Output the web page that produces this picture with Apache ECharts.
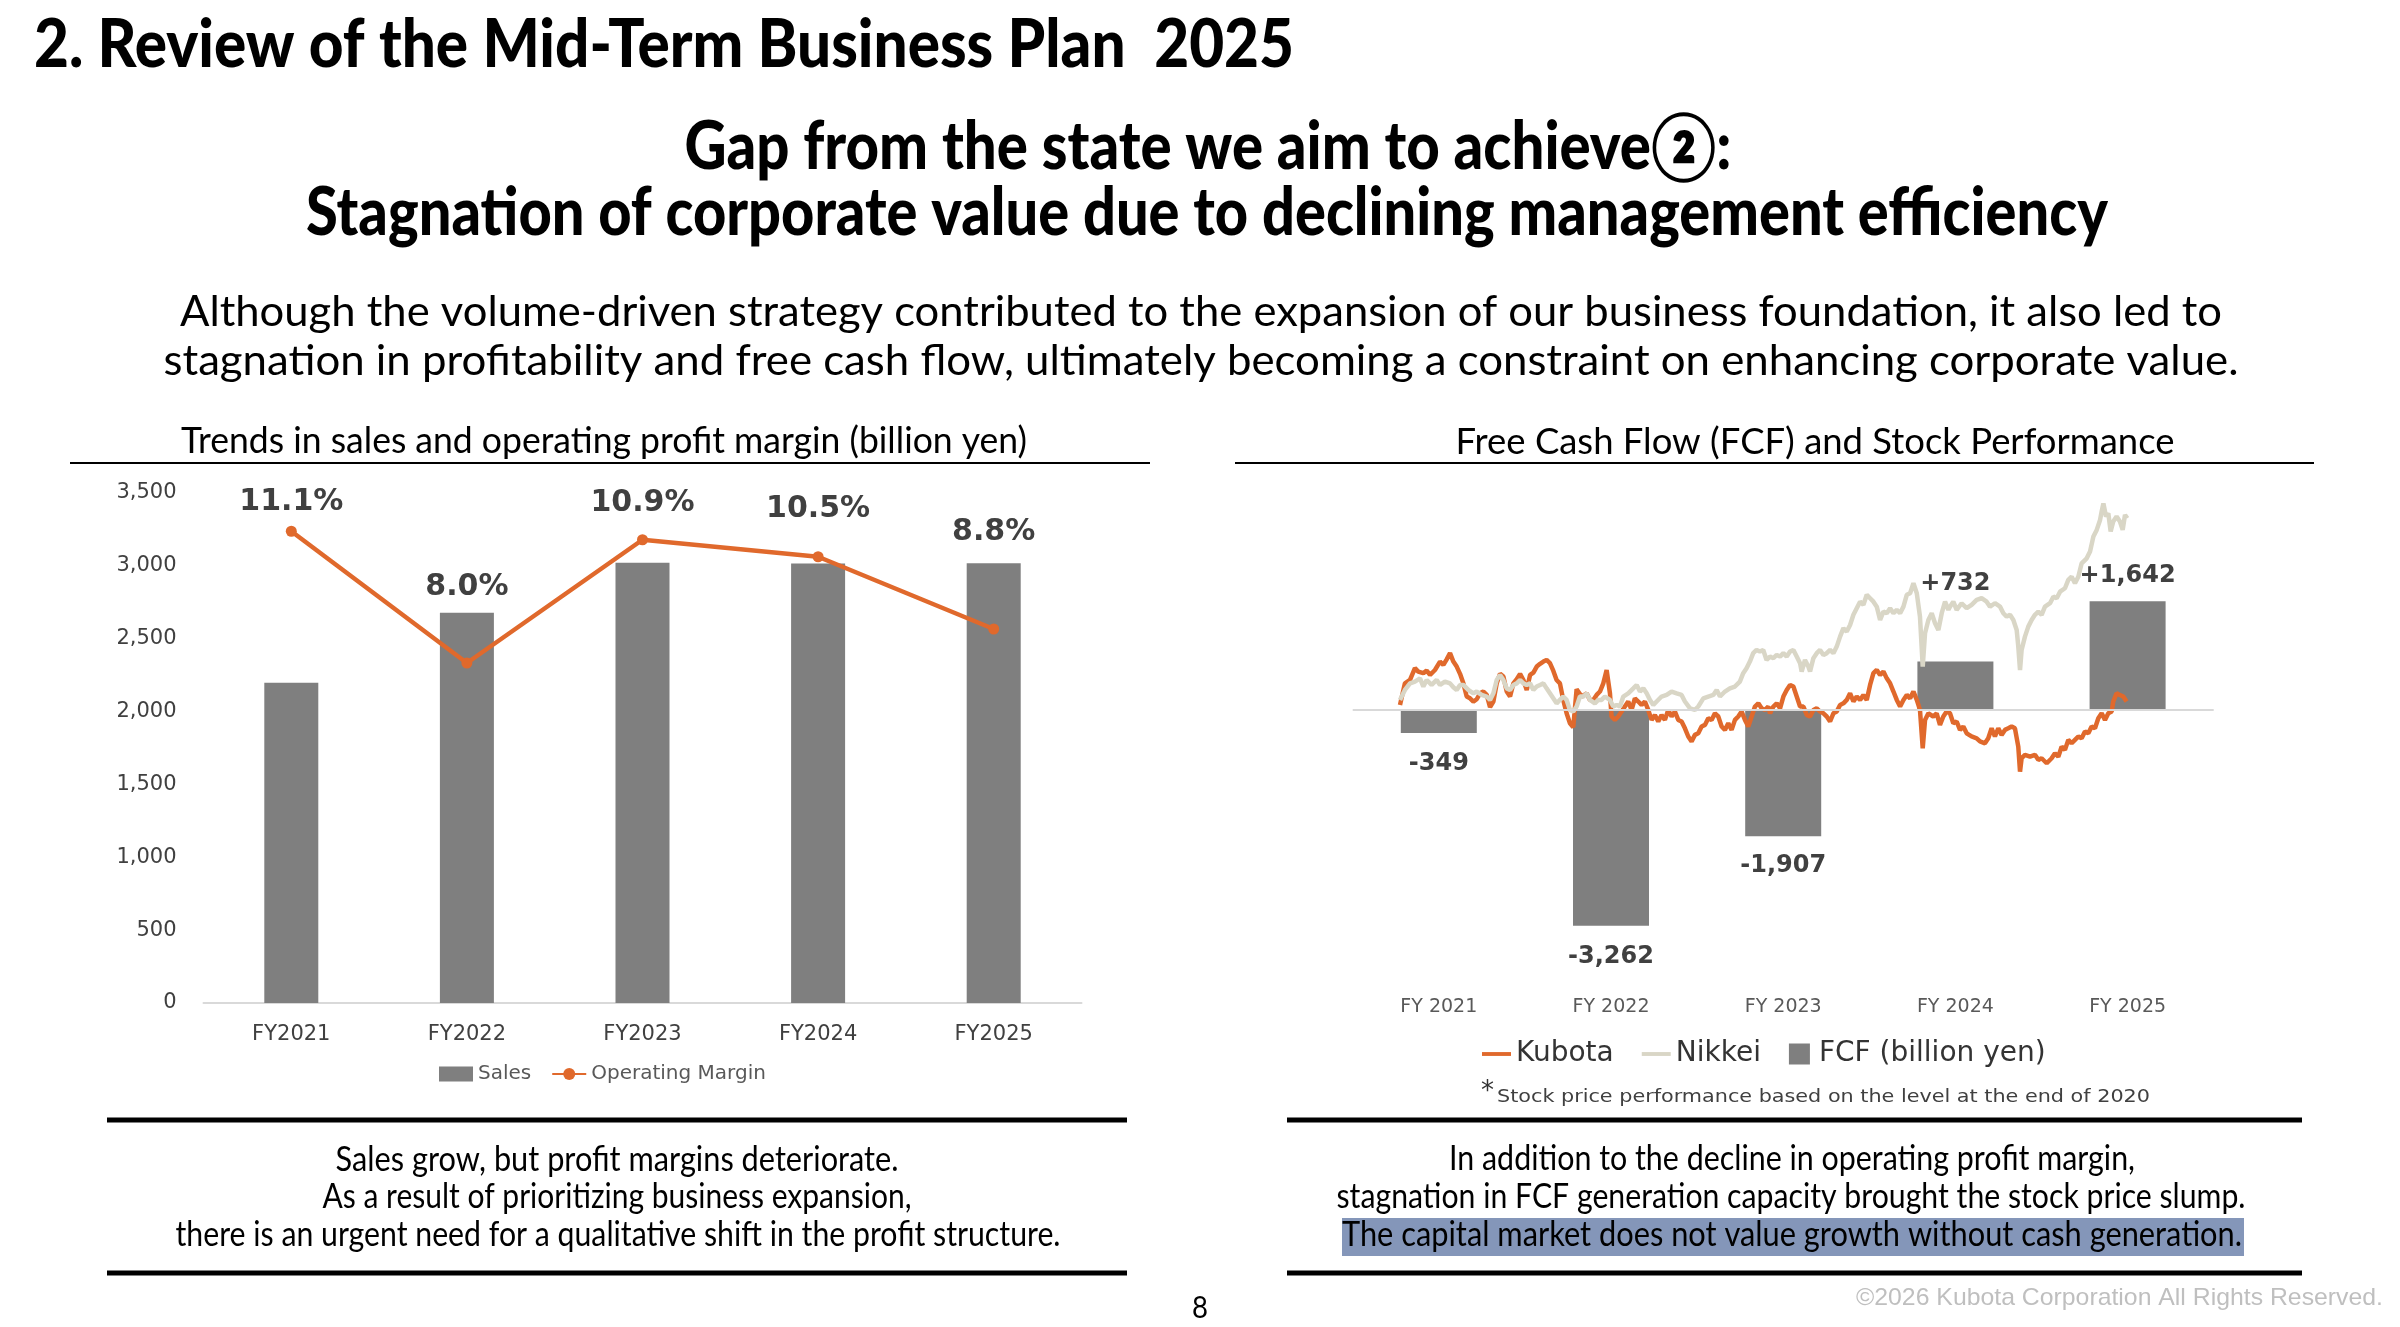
<!DOCTYPE html>
<html>
<head>
<meta charset="utf-8">
<script src="https://cdn.jsdelivr.net/npm/echarts@6/dist/echarts.min.js"></script>
<style>
  html, body { margin: 0; padding: 0; background: #fff; }
  #main { width: 2400px; height: 1327px; }
</style>
</head>
<body>
<div id="main"></div>
<script>
// --- left chart: sales & operating margin
const fiscalYears = ['FY2021', 'FY2022', 'FY2023', 'FY2024', 'FY2025'];
const sales = [2197, 2679, 3021, 3016, 3018];          // billion yen
const opMargin = [11.1, 8.0, 10.9, 10.5, 8.8];          // %
const salesTicks = [0, 3500, 500];                      // min, max, step

// --- right chart: FCF and stock performance
const fcfYears = ['FY 2021', 'FY 2022', 'FY 2023', 'FY 2024', 'FY 2025'];
const fcf = [-349, -3262, -1907, 732, 1642];            // billion yen

// stock performance vs end of 2020 (%), [decimal year, change]
const kubotaPerf = [
  [2021.000, 2.2], [2021.034, 11.7], [2021.069, 13.2], [2021.103, 18.4], [2021.126, 16.9], [2021.161, 16.2],
  [2021.184, 17.3], [2021.207, 15.4], [2021.241, 17.6], [2021.276, 21.3], [2021.299, 19.8], [2021.322, 22.3],
  [2021.345, 25.0], [2021.368, 21.3], [2021.391, 19.1], [2021.414, 15.9], [2021.437, 11.7], [2021.460, 5.9],
  [2021.483, 5.1], [2021.506, 3.7], [2021.529, 4.7], [2021.552, 7.3], [2021.575, 8.1], [2021.598, 6.6],
  [2021.621, 1.2], [2021.644, 3.7], [2021.667, 11.7], [2021.690, 15.9], [2021.713, 14.7], [2021.736, 8.1],
  [2021.759, 5.9], [2021.782, 11.7], [2021.805, 13.5], [2021.828, 15.9], [2021.851, 13.2], [2021.874, 8.8],
  [2021.897, 15.4], [2021.920, 16.4], [2021.943, 19.1], [2021.966, 20.3], [2021.989, 21.3], [2022.011, 22.0],
  [2022.034, 20.6], [2022.057, 17.3], [2022.080, 13.2], [2022.103, 11.7], [2022.126, 4.4], [2022.149, -1.5],
  [2022.172, -5.9], [2022.195, -7.6], [2022.218, 9.1], [2022.253, 5.9], [2022.287, 7.3], [2022.310, 4.4],
  [2022.333, 4.4], [2022.356, 6.6], [2022.379, 8.1], [2022.402, 11.7], [2022.425, 17.6], [2022.437, 18.4],
  [2022.448, 7.3], [2022.459, -2.9], [2022.482, -4.4], [2022.505, -2.9], [2022.528, -0.7], [2022.551, 1.5],
  [2022.574, 3.7], [2022.597, 0], [2022.620, 5.1], [2022.643, 3.7], [2022.666, 2.2], [2022.689, 3.7],
  [2022.712, 0], [2022.735, -4.4], [2022.758, -2.2], [2022.781, -5.1], [2022.804, -2.2], [2022.827, -4.4],
  [2022.850, 0], [2022.873, -2.9], [2022.896, -0.7], [2022.919, -4.4], [2022.942, -5.1], [2022.965, -8.1],
  [2022.988, -11.7], [2023.011, -13.9], [2023.034, -11.0], [2023.057, -10.3], [2023.080, -7.3], [2023.103, -6.6],
  [2023.126, -3.7], [2023.149, -4.4], [2023.172, -1.5], [2023.195, -2.9], [2023.218, -7.3], [2023.241, -8.8],
  [2023.264, -5.9], [2023.287, -8.8], [2023.310, -4.4], [2023.333, -2.9], [2023.356, -0.7], [2023.379, -4.4],
  [2023.402, -7.3], [2023.425, -2.9], [2023.448, 1.5], [2023.471, 2.9], [2023.494, 0.7], [2023.517, 0],
  [2023.540, 1.5], [2023.552, -1.5], [2023.575, 1.5], [2023.598, 2.9], [2023.621, 0.7], [2023.644, 5.9],
  [2023.667, 8.8], [2023.690, 11.0], [2023.713, 10.3], [2023.736, 5.9], [2023.759, 1.5], [2023.782, 1.5],
  [2023.805, -2.2], [2023.828, -2.9], [2023.851, 0], [2023.874, 0.7], [2023.897, -0.7], [2023.920, -1.5],
  [2023.943, -2.9], [2023.966, -5.1], [2023.989, -1.5], [2024.012, -0.7], [2024.035, 2.2], [2024.058, 2.9],
  [2024.081, 4.4], [2024.104, 7.3], [2024.127, 3.7], [2024.150, 5.9], [2024.173, 4.4], [2024.196, 6.6],
  [2024.219, 4.4], [2024.242, 11.0], [2024.265, 16.2], [2024.288, 17.6], [2024.311, 15.4], [2024.334, 16.9],
  [2024.357, 13.9], [2024.380, 11.7], [2024.403, 8.1], [2024.426, 4.4], [2024.449, 1.5], [2024.472, 4.4],
  [2024.495, 6.6], [2024.518, 5.1], [2024.541, 8.1], [2024.564, 4.4], [2024.586, 0], [2024.605, -16.9],
  [2024.621, -4.4], [2024.644, -1.5], [2024.678, -2.9], [2024.701, -1.5], [2024.724, -6.6], [2024.747, -2.9],
  [2024.770, -0.7], [2024.793, -1.5], [2024.816, -5.9], [2024.839, -5.1], [2024.862, -8.8], [2024.885, -7.3],
  [2024.908, -10.3], [2024.942, -11.7], [2024.977, -12.5], [2025.000, -13.9], [2025.034, -14.7], [2025.057, -12.5],
  [2025.080, -8.1], [2025.103, -11.7], [2025.126, -8.1], [2025.149, -11.0], [2025.172, -8.8], [2025.195, -8.1],
  [2025.218, -7.3], [2025.241, -8.1], [2025.264, -16.2], [2025.276, -27.2], [2025.287, -21.3], [2025.310, -19.8],
  [2025.345, -20.6], [2025.379, -19.8], [2025.402, -22.0], [2025.425, -21.3], [2025.460, -23.5], [2025.494, -21.3],
  [2025.517, -19.1], [2025.540, -20.6], [2025.563, -16.2], [2025.586, -17.6], [2025.609, -13.2], [2025.632, -14.7],
  [2025.655, -13.2], [2025.678, -11.7], [2025.701, -12.5], [2025.724, -9.5], [2025.747, -10.3], [2025.770, -7.3],
  [2025.793, -8.1], [2025.816, -3.7], [2025.839, -1.5], [2025.862, -4.4], [2025.885, -1.5], [2025.908, -0.7],
  [2025.919, 3.7], [2025.942, 7.3], [2025.965, 6.6], [2025.988, 5.9], [2026.011, 3.7]
];
const nikkeiPerf = [
  [2021.000, 4.4], [2021.034, 8.8], [2021.069, 11.7], [2021.103, 12.5], [2021.138, 13.9], [2021.161, 10.3],
  [2021.184, 13.2], [2021.218, 11.0], [2021.253, 13.2], [2021.276, 11.0], [2021.310, 12.5], [2021.345, 11.7],
  [2021.368, 10.0], [2021.391, 8.8], [2021.414, 11.0], [2021.437, 11.0], [2021.471, 8.8], [2021.506, 7.3],
  [2021.529, 8.1], [2021.563, 6.6], [2021.598, 5.9], [2021.621, 4.4], [2021.644, 7.3], [2021.667, 13.2],
  [2021.690, 15.4], [2021.713, 13.2], [2021.736, 9.5], [2021.759, 8.8], [2021.782, 11.0], [2021.805, 11.7],
  [2021.828, 13.2], [2021.851, 11.7], [2021.874, 11.0], [2021.897, 11.7], [2021.920, 8.8], [2021.943, 10.3],
  [2021.966, 11.0], [2021.989, 11.7], [2022.011, 9.5], [2022.034, 7.3], [2022.057, 5.1], [2022.080, 2.9],
  [2022.103, 4.4], [2022.126, 5.9], [2022.149, 4.4], [2022.172, 0], [2022.195, -0.7], [2022.218, 1.5],
  [2022.241, 5.9], [2022.264, 5.9], [2022.287, 7.3], [2022.310, 4.4], [2022.344, 2.9], [2022.367, 4.4],
  [2022.390, 4.4], [2022.413, 5.9], [2022.448, 4.4], [2022.471, 1.5], [2022.494, 2.2], [2022.517, 1.5],
  [2022.540, 5.9], [2022.574, 7.3], [2022.609, 9.5], [2022.632, 11.0], [2022.655, 8.1], [2022.678, 9.5],
  [2022.701, 7.3], [2022.724, 4.4], [2022.747, 2.2], [2022.770, 3.7], [2022.804, 5.9], [2022.839, 6.6],
  [2022.873, 8.1], [2022.908, 7.3], [2022.942, 6.6], [2022.965, 3.7], [2023.000, 0.7], [2023.034, 0],
  [2023.057, 1.5], [2023.092, 5.1], [2023.126, 5.9], [2023.161, 6.6], [2023.184, 8.8], [2023.207, 5.9],
  [2023.241, 8.1], [2023.275, 9.5], [2023.310, 10.3], [2023.344, 12.5], [2023.367, 16.2], [2023.390, 18.4],
  [2023.413, 21.3], [2023.436, 25.0], [2023.459, 26.4], [2023.482, 25.7], [2023.505, 26.4], [2023.528, 22.0],
  [2023.552, 23.5], [2023.575, 22.8], [2023.598, 24.2], [2023.621, 23.5], [2023.644, 25.0], [2023.667, 23.5],
  [2023.690, 25.7], [2023.713, 26.4], [2023.736, 23.5], [2023.759, 20.6], [2023.770, 16.9], [2023.793, 22.0],
  [2023.816, 19.1], [2023.828, 16.9], [2023.851, 22.8], [2023.874, 25.0], [2023.897, 26.4], [2023.920, 24.2],
  [2023.943, 25.0], [2023.966, 26.4], [2023.989, 25.0], [2024.012, 27.9], [2024.035, 32.3], [2024.058, 36.0],
  [2024.081, 34.5], [2024.104, 37.4], [2024.127, 41.9], [2024.150, 44.8], [2024.173, 47.7], [2024.196, 46.3],
  [2024.219, 50.7], [2024.242, 49.2], [2024.265, 47.7], [2024.288, 45.5], [2024.311, 39.6], [2024.334, 43.3],
  [2024.357, 42.6], [2024.380, 44.8], [2024.403, 42.6], [2024.426, 44.1], [2024.449, 42.6], [2024.472, 45.5],
  [2024.495, 50.7], [2024.518, 51.4], [2024.541, 55.8], [2024.564, 51.4], [2024.586, 41.1], [2024.605, 19.1],
  [2024.621, 33.8], [2024.644, 39.6], [2024.667, 42.6], [2024.690, 38.2], [2024.713, 35.2], [2024.736, 42.6],
  [2024.759, 47.7], [2024.782, 44.1], [2024.793, 45.5], [2024.816, 47.7], [2024.839, 44.1], [2024.873, 47.0],
  [2024.908, 44.8], [2024.942, 46.3], [2024.977, 48.5], [2025.011, 49.2], [2025.046, 47.7], [2025.069, 45.5],
  [2025.103, 47.0], [2025.138, 45.5], [2025.161, 42.6], [2025.184, 41.1], [2025.207, 41.9], [2025.230, 39.6],
  [2025.253, 35.2], [2025.264, 27.9], [2025.276, 17.6], [2025.287, 26.4], [2025.310, 32.3], [2025.333, 36.7],
  [2025.356, 39.6], [2025.379, 41.9], [2025.402, 43.3], [2025.425, 41.9], [2025.448, 45.5], [2025.483, 47.0],
  [2025.506, 49.9], [2025.529, 49.2], [2025.552, 52.1], [2025.586, 53.6], [2025.609, 57.3], [2025.632, 58.7],
  [2025.655, 55.8], [2025.678, 58.7], [2025.701, 64.6], [2025.736, 66.8], [2025.759, 69.8], [2025.782, 76.4],
  [2025.805, 79.3], [2025.828, 83.7], [2025.839, 87.4], [2025.851, 91.0], [2025.869, 85.2], [2025.885, 86.6],
  [2025.901, 78.6], [2025.919, 83.0], [2025.942, 85.2], [2025.965, 83.0], [2025.984, 79.3], [2026.000, 85.9],
  [2026.016, 84.4]
];

// label nudges (px), kept apart from the data
const marginLabelShift = [-4, -50, -11, -22, -71];
const fcfLabelShift = [14, 14, 13, -61, -9];

const ORANGE = '#E0692C';
const BEIGE = '#D9D6C6';
const GREY = '#7F7F7F';
const AXIS_FONT = 'DejaVu Sans';
const HEAD_FONT = 'Lato';

const chart = echarts.init(document.getElementById('main'));

// text scaled horizontally to the width it has on the slide
const measureCtx = document.createElement('canvas').getContext('2d');
const fitText = (text, x, y, font, width, align, fill) => {
  measureCtx.font = font;
  const sx = width / measureCtx.measureText(text).width;
  return {
    type: 'text', x: x, y: y, scaleX: sx, silent: true,
    style: { text: text, font: font, fill: fill || '#000', align: align || 'center', verticalAlign: 'middle' }
  };
};
const hline = (x1, x2, y, w) => ({
  type: 'line', silent: true,
  shape: { x1: x1, y1: y, x2: x2, y2: y },
  style: { stroke: '#000', lineWidth: w }
});

const graphics = [
  fitText('2. Review of the Mid-Term Business Plan  2025', 34, 46, '900 66px ' + HEAD_FONT, 1260, 'left'),
  fitText('Gap from the state we aim to achieve\u2461:', 1208, 148, '900 66px ' + HEAD_FONT, 1047),
  fitText('Stagnation of corporate value due to declining management efficiency', 1207, 214, '900 66px ' + HEAD_FONT, 1802),
  fitText('Although the volume-driven strategy contributed to the expansion of our business foundation, it also led to', 1201, 312, '42px ' + HEAD_FONT, 2042),
  fitText('stagnation in profitability and free cash flow, ultimately becoming a constraint on enhancing corporate value.', 1201, 361, '42px ' + HEAD_FONT, 2075),
  fitText('Trends in sales and operating profit margin (billion yen)', 604, 441, '36px ' + HEAD_FONT, 846),
  fitText('Free Cash Flow (FCF) and Stock Performance', 1815, 442, '36px ' + HEAD_FONT, 719),
  hline(70, 1150, 463, 2),
  hline(1235, 2314, 463, 2),
  hline(107, 1127, 1120, 5),
  hline(107, 1127, 1273, 5),
  hline(1287, 2302, 1120, 5),
  hline(1287, 2302, 1273, 5),
  fitText('Sales grow, but profit margins deteriorate.', 617, 1160, '35px ' + HEAD_FONT, 563),
  fitText('As a result of prioritizing business expansion,', 617, 1197, '35px ' + HEAD_FONT, 589),
  fitText('there is an urgent need for a qualitative shift in the profit structure.', 618, 1235, '35px ' + HEAD_FONT, 885),
  {
    type: 'rect', silent: true,
    shape: { x: 1342, y: 1218, width: 902, height: 38 },
    style: { fill: '#8496B9' }
  },
  fitText('In addition to the decline in operating profit margin,', 1792, 1159, '35px ' + HEAD_FONT, 686),
  fitText('stagnation in FCF generation capacity brought the stock price slump.', 1791, 1197, '35px ' + HEAD_FONT, 909),
  fitText('The capital market does not value growth without cash generation.', 1792, 1235, '35px ' + HEAD_FONT, 900),
  {
    type: 'text', x: 1481, y: 1092, silent: true,
    style: { text: '*', font: '26px DejaVu Sans', fill: '#333', align: 'left', verticalAlign: 'middle' }
  },
  fitText('Stock price performance based on the level at the end of 2020', 1497, 1098, '17px DejaVu Sans', 653, 'left', '#404040'),
  fitText('8', 1200, 1308, '30px ' + HEAD_FONT, 16),
  fitText('\u00A92026 Kubota Corporation All Rights Reserved.', 2383, 1298, '24px Liberation Sans', 527, 'right', '#BFBFBF')
];

const fmt = (v) => v.toLocaleString('en-US');
const LINE_ICON = 'path://M0,0H30V4H0Z';

const option = {
  animation: false,
  backgroundColor: '#fff',
  textStyle: { fontFamily: AXIS_FONT },
  grid: [
    { left: 203.5, top: 493, width: 878, height: 510 },
    { left: 1352.7, top: 471.8, width: 861, height: 502.8 },
    { left: 1400, top: 471.8, width: 732.25, height: 502.8 }
  ],
  legend: [
    {
      left: 439, top: 1064, padding: 0, itemGap: 20,
      itemWidth: 34, itemHeight: 15,
      textStyle: { fontSize: 20, color: '#595959', fontFamily: AXIS_FONT },
      data: [{ name: 'Sales', icon: 'rect' }, { name: 'Operating Margin' }]
    },
    {
      left: 1482, top: 1040, padding: 0, itemGap: 28,
      itemWidth: 29, itemHeight: 21,
      textStyle: { fontSize: 28, color: '#333', fontFamily: AXIS_FONT },
      data: [
        { name: 'Kubota', icon: LINE_ICON },
        { name: 'Nikkei', icon: LINE_ICON },
        { name: 'FCF (billion yen)', icon: 'path://M0,0H10V10H0Z' }
      ]
    }
  ],
  xAxis: [
    {
      type: 'category', gridIndex: 0, data: fiscalYears,
      axisLine: { lineStyle: { color: '#D9D9D9', width: 2 } },
      axisTick: { show: false },
      axisLabel: { fontSize: 21, color: '#404040', margin: 21 }
    },
    {
      type: 'category', gridIndex: 1, data: fcfYears,
      axisLine: { show: false, onZero: false },
      axisTick: { show: false },
      axisLabel: { fontSize: 19, color: '#595959', margin: 23 }
    },
    { type: 'value', gridIndex: 2, min: 2021, max: 2026.05, show: false }
  ],
  yAxis: [
    {
      type: 'value', gridIndex: 0,
      min: salesTicks[0], max: salesTicks[1], interval: salesTicks[2],
      axisLine: { show: false }, axisTick: { show: false }, splitLine: { show: false },
      axisLabel: { fontSize: 21, color: '#404040', margin: 27, formatter: fmt }
    },
    { type: 'value', gridIndex: 0, min: 0, max: 12, show: false, splitLine: { show: false } },
    { type: 'value', gridIndex: 1, min: -4000, max: 3600, show: false, splitLine: { show: false } },
    { type: 'value', gridIndex: 2, min: -116.6, max: 104.9, show: false, splitLine: { show: false } }
  ],
  series: [
    {
      name: 'Sales', type: 'bar', xAxisIndex: 0, yAxisIndex: 0,
      data: sales, barWidth: 54,
      itemStyle: { color: GREY }
    },
    {
      name: 'Operating Margin', type: 'line', xAxisIndex: 0, yAxisIndex: 1,
      data: opMargin.map((v, i) => ({ value: v, label: { offset: [0, marginLabelShift[i]] } })),
      symbol: 'circle', symbolSize: 11,
      lineStyle: { color: ORANGE, width: 4.5 },
      itemStyle: { color: ORANGE },
      label: {
        show: true, position: 'top',
        fontSize: 30, fontWeight: 'bold', color: '#404040', fontFamily: AXIS_FONT,
        formatter: (p) => p.value.toFixed(1) + '%'
      }
    },
    {
      name: 'FCF (billion yen)', type: 'bar', xAxisIndex: 1, yAxisIndex: 2,
      data: fcf.map((v, i) => ({
        value: v,
        label: { position: v < 0 ? 'bottom' : 'top', offset: [0, fcfLabelShift[i]] }
      })),
      barWidth: 76,
      itemStyle: { color: GREY },
      label: {
        show: true,
        fontSize: 24, fontWeight: 'bold', color: '#404040', fontFamily: AXIS_FONT,
        formatter: (p) => (p.value > 0 ? '+' : '') + fmt(p.value)
      },
      markLine: {
        silent: true, symbol: 'none', label: { show: false },
        lineStyle: { color: '#D9D9D9', width: 2, type: 'solid' },
        data: [{ yAxis: 0 }]
      }
    },
    {
      name: 'Kubota', type: 'line', xAxisIndex: 2, yAxisIndex: 3,
      data: kubotaPerf, showSymbol: false, symbol: 'none',
      lineStyle: { color: ORANGE, width: 4.5 }, itemStyle: { color: ORANGE }
    },
    {
      name: 'Nikkei', type: 'line', xAxisIndex: 2, yAxisIndex: 3,
      data: nikkeiPerf, showSymbol: false, symbol: 'none',
      lineStyle: { color: BEIGE, width: 4.5 }, itemStyle: { color: BEIGE }
    }
  ],
  graphic: graphics
};

chart.setOption(option);
</script>
</body>
</html>
